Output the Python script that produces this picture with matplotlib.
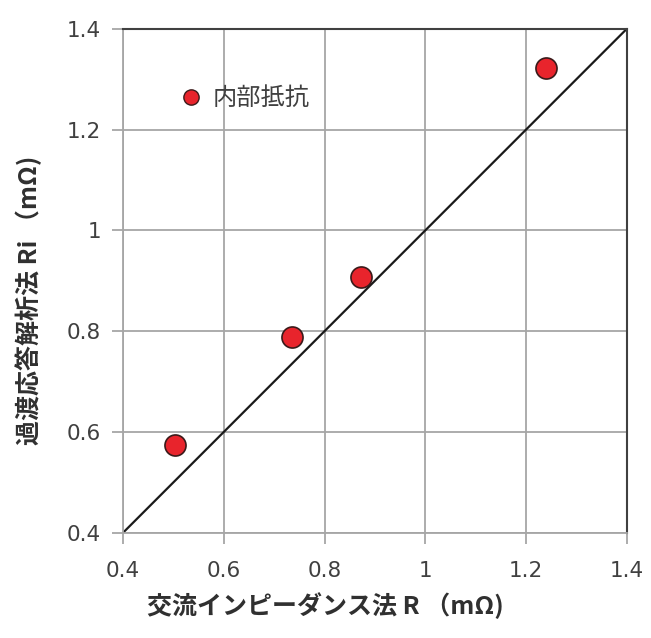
import matplotlib.pyplot as plt
from matplotlib.lines import Line2D

plt.rcParams['font.family'] = ['DejaVu Sans', 'Noto Sans CJK JP']

ac_r = [0.504, 0.735, 0.872, 1.239]
ri = [0.575, 0.789, 0.908, 1.323]
ticks = [0.4, 0.6, 0.8, 1.0, 1.2, 1.4]
tick_labels = ["0.4", "0.6", "0.8", "1", "1.2", "1.4"]
ref_line = [0.4, 1.4]

fig = plt.figure(figsize=(6.51, 6.38), dpi=100)
ax = fig.add_axes([0.189, 0.165, 0.774, 0.79])

ax.plot(ref_line, ref_line, color="#1a1a1a", lw=1.6, zorder=2)
ax.scatter(ac_r, ri, s=230, color="#e8242c", edgecolors="#3a1a1a", linewidths=1.2, zorder=3)

ax.set_xlim(0.4, 1.4)
ax.set_ylim(0.4, 1.4)
ax.set_xticks(ticks)
ax.set_yticks(ticks)
ax.set_xticklabels(tick_labels)
ax.set_yticklabels(tick_labels)
ax.grid(True, color="#a6a6a6", lw=1.3)
ax.set_axisbelow(True)
ax.tick_params(length=8, width=1.3, color="#a6a6a6", labelsize=15.5, labelcolor="#404040")
ax.tick_params(axis="x", pad=12)
ax.tick_params(axis="y", pad=8)

for side in ["left", "bottom"]:
    ax.spines[side].set_color("#a6a6a6")
    ax.spines[side].set_linewidth(1.3)
for side in ["top", "right"]:
    ax.spines[side].set_color("#404040")
    ax.spines[side].set_linewidth(1.5)

ax.set_xlabel("交流インピーダンス法 R （mΩ)", family=['Noto Sans CJK JP', 'DejaVu Sans'],
              fontsize=18, fontweight="bold", color="#303030")
ax.xaxis.set_label_coords(0.402, -0.118)
ax.set_ylabel("過渡応答解析法 Ri （mΩ)", family=['Noto Sans CJK JP', 'DejaVu Sans'],
              fontsize=18, fontweight="bold", color="#303030")
ax.yaxis.set_label_coords(-0.16, 0.462)

handle = Line2D([], [], marker="o", ls="none", markersize=11, markerfacecolor="#e8242c",
                markeredgecolor="#3a1a1a", markeredgewidth=1.0)
leg = ax.legend([handle], ["内部抵抗"], loc="center left", bbox_to_anchor=(0.043, 0.862),
                frameon=False, handletextpad=-0.1, prop={'family': ['Noto Sans CJK JP', 'DejaVu Sans'], 'size': 17.5})
for t in leg.get_texts():
    t.set_color("#404040")

fig.savefig("out.png", dpi=100)
